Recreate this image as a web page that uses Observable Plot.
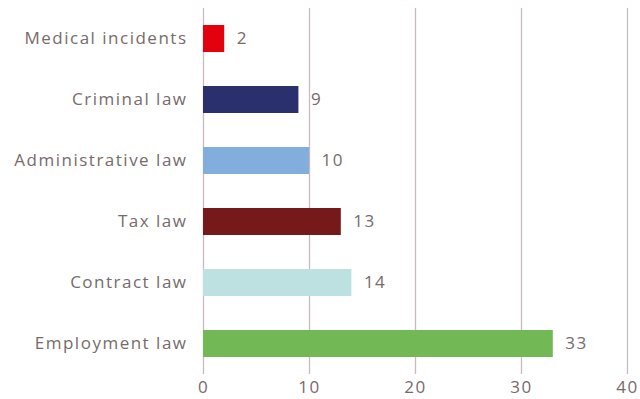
<!DOCTYPE html>
<html><head><meta charset="utf-8">
<script src="https://cdn.jsdelivr.net/npm/d3@7"></script>
<script src="https://cdn.jsdelivr.net/npm/@observablehq/plot@0.6"></script>
<style>
body{margin:0;background:#fff;}
svg{font-family:"Open Sans", sans-serif;}
svg text{letter-spacing:1.5px;}
</style>
</head><body><div id="chart"></div>
<script>
const categories = ["Medical incidents","Criminal law","Administrative law","Tax law","Contract law","Employment law"];
const values = [2, 9, 10, 13, 14, 33];
const colors = ["#e3000f","#2a2f6e","#82aede","#75191a","#bde0e0","#72b956"];
const xTicks = [0, 10, 20, 30, 40];

const data = categories.map((c, i) => ({category: c, value: values[i], color: colors[i]}));
const textColor = "#766b6b";
const gridColor = "#cbb9c2";

const chart = Plot.plot({
  width: 640,
  height: 399,
  marginLeft: 203,
  marginRight: 13,
  marginTop: 8,
  marginBottom: 25,
  style: {fontSize: "17px", color: textColor, background: "#fff"},
  x: {domain: [0, 40], ticks: xTicks},
  y: {domain: categories, paddingInner: 0.56, paddingOuter: 0.28, label: null},
  marks: [
    Plot.ruleX(xTicks, {stroke: gridColor, strokeWidth: 1.3}),
    Plot.barX(data, {x: "value", y: "category", fill: "color"}),
    Plot.text(data, {x: "value", y: "category", text: d => String(d.value), textAnchor: "start", dx: 12, fill: textColor, fontSize: 17}),
    Plot.axisX(xTicks, {tickSize: 0, tickPadding: 6, label: null, fill: textColor, fontSize: 17}),
    Plot.axisY({tickSize: 0, tickPadding: 16, label: null, fill: textColor, fontSize: 17})
  ]
});
document.getElementById("chart").appendChild(chart);
</script>
</body></html>
